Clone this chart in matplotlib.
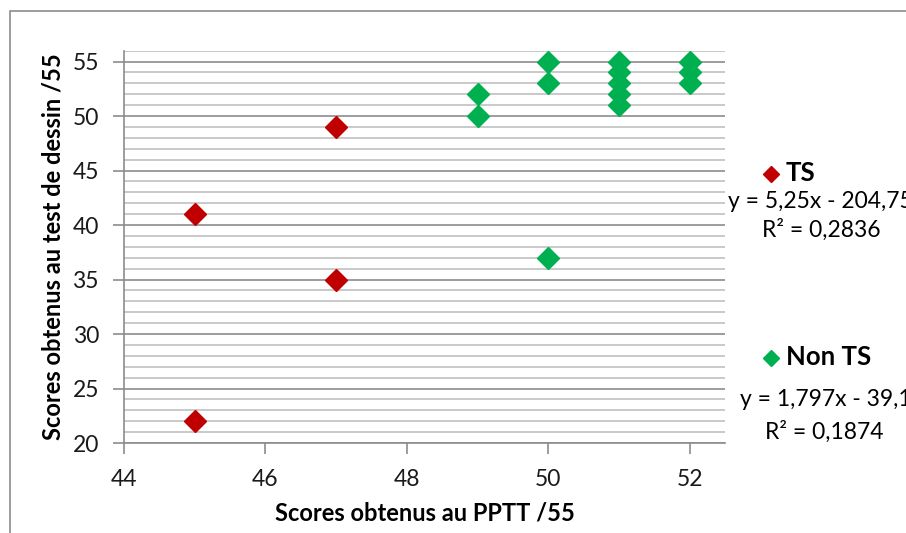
import matplotlib

matplotlib.use("Agg")
import matplotlib.pyplot as plt  # noqa: E402
from matplotlib.lines import Line2D  # noqa: E402
from matplotlib.patches import Rectangle  # noqa: E402
from matplotlib.ticker import MultipleLocator  # noqa: E402

plt.rcParams["font.family"] = ["Lato", "DejaVu Sans"]

# Data
ts_x = [45, 45, 47, 47]
ts_y = [41, 22, 49, 35]
nonts_x = [49, 49, 50, 50, 50, 51, 51, 51, 51, 51, 52, 52, 52]
nonts_y = [52, 50, 55, 53, 37, 55, 54, 53, 52, 51, 55, 54, 53]

ts_label = "TS"
nonts_label = "Non TS"
ts_eq = "y = 5,25x - 204,75"
ts_r2 = "R² = 0,2836"
nonts_eq = "y = 1,797x - 39,1"
nonts_r2 = "R² = 0,1874"

RED = "#C00000"
GREEN = "#00B050"
W, H = 906, 533

fig = plt.figure(figsize=(9.06, 5.33), dpi=100)
ax = fig.add_axes([124 / W, 1 - 443 / H, (725 - 124) / W, (443 - 50.7) / H])

ax.plot(ts_x, ts_y, "D", color=RED, markersize=11.5, linestyle="none", zorder=3)
ax.plot(nonts_x, nonts_y, "D", color=GREEN, markersize=11.5, linestyle="none", zorder=3)

ax.set_xlim(44, 52.5)
ax.set_ylim(20, 56)
ax.xaxis.set_major_locator(MultipleLocator(2))
ax.yaxis.set_major_locator(MultipleLocator(5))
ax.yaxis.set_minor_locator(MultipleLocator(1))

ax.grid(axis="y", which="major", color="#8C8C8C", linewidth=1.2, zorder=1)
ax.grid(axis="y", which="minor", color="#C0C0C0", linewidth=1.2, zorder=1)
ax.set_axisbelow(True)

for s in ["top", "right"]:
    ax.spines[s].set_visible(False)
for s in ["left", "bottom"]:
    ax.spines[s].set_color("#8C8C8C")
    ax.spines[s].set_linewidth(1.2)

ax.tick_params(axis="both", which="major", direction="out", length=8, width=1.2,
               color="#8C8C8C", labelsize=16.5, labelcolor="#1a1a1a")
ax.tick_params(axis="y", which="minor", length=0)
ax.tick_params(axis="x", pad=11)
ax.tick_params(axis="y", pad=10)

ax.set_xlabel("Scores obtenus au PPTT /55", fontsize=17, fontweight="bold", labelpad=8)
ax.set_ylabel("Scores obtenus au test de dessin /55", fontsize=17, fontweight="bold", labelpad=6)

# outer chart border
fig.add_artist(Rectangle((10 / W, -0.1), 1.2, 1 - 11 / H + 0.1, transform=fig.transFigure,
                         fill=False, edgecolor="#8C8C8C", linewidth=1.2))

# legend entries and trendline labels
fig.add_artist(Line2D([771 / W], [1 - 174 / H], marker="D", color=RED, markersize=8,
                      transform=fig.transFigure))
fig.text(786 / W, 1 - 173 / H, ts_label, fontsize=18.5, fontweight="bold", va="center")
fig.text(728 / W, 1 - 201 / H, ts_eq, fontsize=16.5, va="center")
fig.text(762 / W, 1 - 230 / H, ts_r2, fontsize=16.5, va="center")

fig.add_artist(Line2D([771 / W], [1 - 358 / H], marker="D", color=GREEN, markersize=8,
                      transform=fig.transFigure))
fig.text(786 / W, 1 - 357 / H, nonts_label, fontsize=18.5, fontweight="bold", va="center")
fig.text(740 / W, 1 - 399 / H, nonts_eq, fontsize=16.5, va="center")
fig.text(765 / W, 1 - 432 / H, nonts_r2, fontsize=16.5, va="center")

fig.savefig("out.png", dpi=100)
